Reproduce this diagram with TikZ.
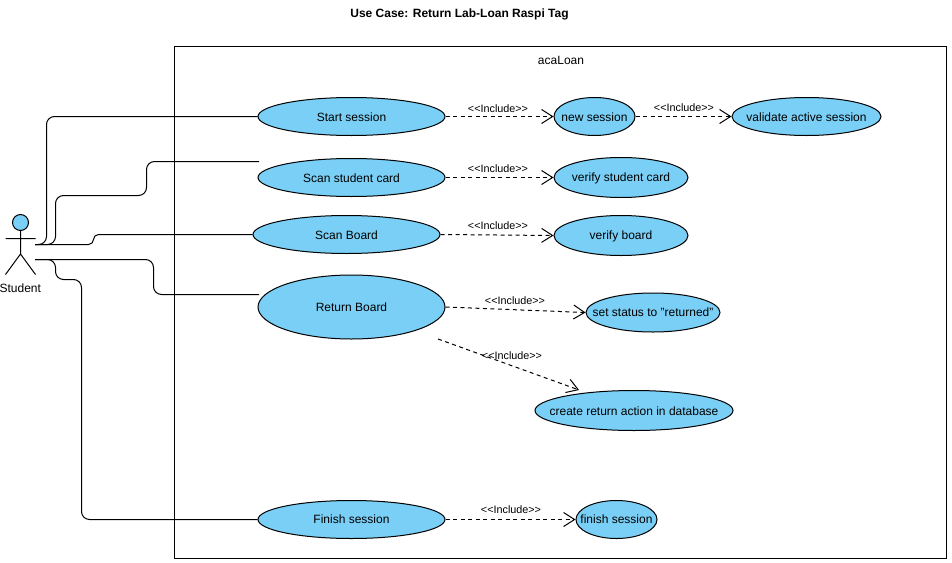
\documentclass[tikz,border=0pt]{standalone}
\usepackage{fontspec}
\setmainfont{Liberation Sans}
\usetikzlibrary{arrows.meta,shapes.geometric}
\definecolor{ucfill}{RGB}{122,207,246}
\newcommand{\uctext}[1]{\makebox[0pt]{#1}}
\newcommand{\uclow}[1]{\makebox[0pt]{\raisebox{-0.5pt}[\height][\depth]{#1}}}
\newcommand{\inctext}{<\kern0pt<Include>\kern0pt>}
\tikzset{
  uc/.style={ellipse,draw=black,fill=ucfill,line width=1pt,inner sep=0pt,minimum width=#1,font=\fontsize{12}{14}\selectfont},
  inc/.style={draw=black,line width=1pt,dash pattern=on 4pt off 3.5pt,-{Straight Barb[length=11pt,width=14pt,line width=1pt]}},
  lbl/.style={font=\fontsize{10.8}{12}\selectfont,inner sep=0pt},
  assoc/.style={draw=black,line width=1pt,rounded corners=8pt},
  actor/.style={draw=black,line width=1pt}
}
\begin{document}
\begin{tikzpicture}[x=1pt,y=-1pt]
\useasboundingbox (0,0) rectangle (952,562);
\fill[white] (0,0) rectangle (952,562);
\node[font=\fontsize{12}{14}\selectfont\bfseries,inner sep=0pt] (title) at (459.5,14) {Use Case: Return Lab-Loan Raspi Tag};
\node[draw=black,line width=1pt,minimum width=772pt,minimum height=512pt,inner sep=0pt] (sys) at (560.5,302.5) {};
\node[font=\fontsize{12}{14}\selectfont,inner sep=0pt] (sysname) at (561,60) {acaLoan};
% actor
\node[circle,draw=black,fill=ucfill,line width=1pt,minimum size=16pt,inner sep=0pt] (head) at (20.5,222.5) {};
\coordinate (hip) at (20.5,254);
\coordinate (armL) at (5.5,238.5);
\coordinate (armR) at (35.5,238.5);
\coordinate (legL) at (5.5,274.5);
\coordinate (legR) at (35.5,274.5);
\draw[actor] (head) -- (hip) (armL) -- (armR) (legL) -- (hip) -- (legR);
\node[font=\fontsize{12}{14}\selectfont,inner sep=0pt] (student) at (20.3,288) {Student};
\coordinate (a1) at (35,244.5);
\coordinate (a2) at (35,259.5);
% use cases
\node[uc=187pt,minimum height=38pt] (start) at (351.5,116.5) {\uclow{Start session}};
\node[uc=81pt,minimum height=38pt] (new) at (594.5,116.5) {\uclow{new session}};
\node[uc=149pt,minimum height=38pt] (valid) at (806.5,116.5) {\uclow{validate active session}};
\node[uc=187pt,minimum height=38pt] (scard) at (351.5,177.5) {\uclow{Scan student card}};
\node[uc=134pt,minimum height=40pt] (vcard) at (621,177.5) {\uclow{verify student card}};
\node[uc=187pt,minimum height=38pt] (sboard) at (346.5,234.5) {\uclow{Scan Board}};
\node[uc=134pt,minimum height=40pt] (vboard) at (621,235.5) {\uclow{verify board}};
\node[uc=187pt,minimum height=64pt] (ret) at (351.5,307) {\uctext{Return Board}};
\node[uc=134pt,minimum height=39pt] (status) at (653,312.5) {\uctext{set status to "returned"}};
\node[uc=198pt,minimum height=40pt] (create) at (634,410.5) {\uclow{create return action in database}};
\node[uc=187pt,minimum height=38pt] (finish) at (351.5,519.5) {\uctext{Finish session}};
\node[uc=81pt,minimum height=38pt] (fin2) at (616.5,519.5) {\uctext{finish session}};
% association ends
\coordinate (scardTop) at (259,161.5);
\coordinate (retTop) at (259,294.5);
\coordinate (incA) at (438,339);
\coordinate (incB) at (579,390);
% associations
\draw[assoc] (a1) -| (46.5,116.5) -- (start.west);
\draw[assoc] (a1) -| (55.5,195.5) -| (146.5,161.5) -- (scardTop);
\draw[assoc,rounded corners=5pt] (a1) -| (93.5,234.5) -- (sboard.west);
\draw[assoc] (a2) -| (153.5,294.5) -- (retTop);
\draw[assoc] (a2) -| (55.5,279.5) -| (81.5,519.5) -- (finish.west);
% includes
\draw[inc] (start.east) -- (new.west);
\draw[inc] (new.east) -- (valid.west);
\draw[inc] (scard.east) -- (vcard.west);
\draw[inc] (sboard.east) -- (vboard.west);
\draw[inc] (ret.east) -- (status.west);
\draw[inc] (incA) -- (incB);
\draw[inc] (finish.east) -- (fin2.west);
% labels
\node[lbl] (l1) at (498,109) {\inctext};
\node[lbl] (l2) at (684,108) {\inctext};
\node[lbl] (l3) at (498,169) {\inctext};
\node[lbl] (l4) at (498,226) {\inctext};
\node[lbl] (l5) at (515,301) {\inctext};
\node[lbl] (l6) at (512,356) {\inctext};
\node[lbl] (l7) at (511,510) {\inctext};
\end{tikzpicture}
\end{document}
